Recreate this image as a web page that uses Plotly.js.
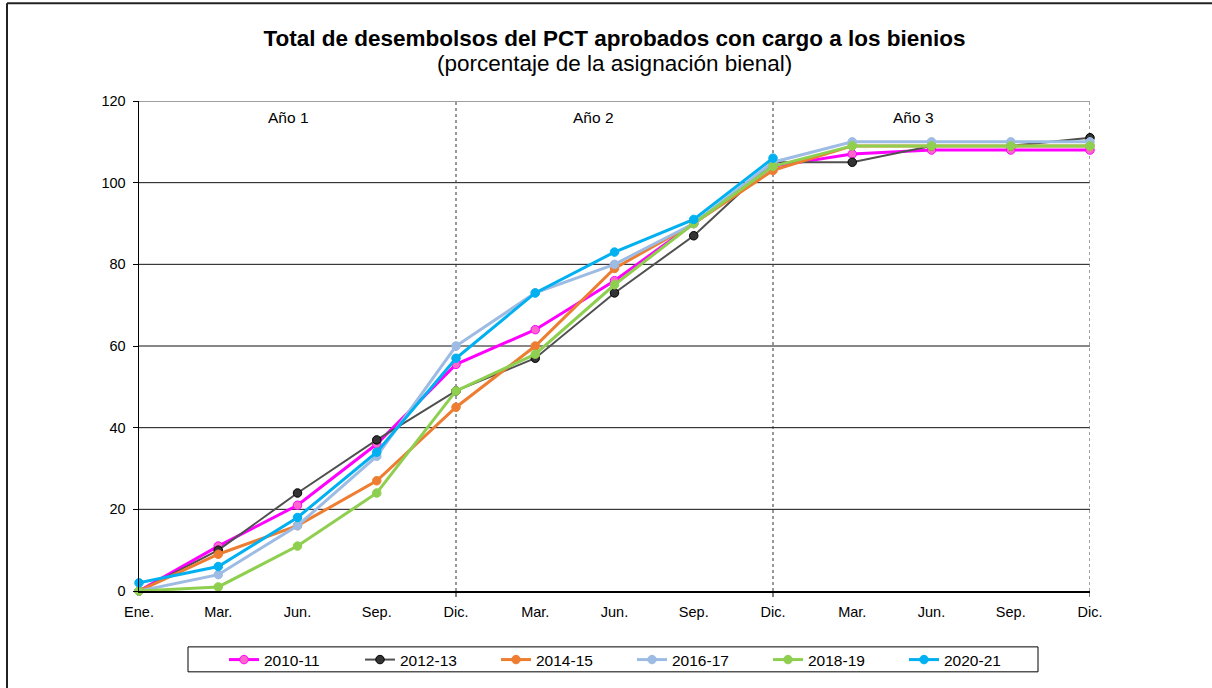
<!DOCTYPE html>
<html>
<head>
<meta charset="utf-8">
<script src="https://cdn.plot.ly/plotly-3.0.1.min.js"></script>
<style>
html,body{margin:0;padding:0;background:#fff;}
#chart{width:1212px;height:688px;}
</style>
</head>
<body>
<div id="chart"></div>
<script>
// ---- data ----
var monthLabels = ["Ene.","Mar.","Jun.","Sep.","Dic.","Mar.","Jun.","Sep.","Dic.","Mar.","Jun.","Sep.","Dic."];
var yearLabels = ["Año 1","Año 2","Año 3"];
var seriesNames = ["2010-11","2012-13","2014-15","2016-17","2018-19","2020-21"];
var s2010_11 = [0, 11, 21, 36, 55.5, 64, 76, 90, 104, 107, 108, 108, 108];
var s2012_13 = [0, 10, 24, 37, 49, 57, 73, 87, 105, 105, 109, 109, 111];
var s2014_15 = [0, 9, 16, 27, 45, 60, 79, 90, 103, 109, 109, 109, 109];
var s2016_17 = [0, 4, 16, 33, 60, 73, 80, 90, 105, 110, 110, 110, 110];
var s2018_19 = [0, 1, 11, 24, 49, 58, 75, 90, 104, 109, 109, 109, 109];
var s2020_21 = [2, 6, 18, 34, 57, 73, 83, 91, 106, null, null, null, null];

var xIdx = monthLabels.map(function(_, i){ return i; });

var styles = [
  {color:"#FF00FF", width:3, mcolor:"#FF66CC", mline:"#FF00FF"},
  {color:"#505050", width:2, mcolor:"#333333", mline:"#000000"},
  {color:"#ED7D31", width:3, mcolor:"#ED7D31", mline:"#ED7D31"},
  {color:"#9DBBE3", width:3, mcolor:"#9DBBE3", mline:"#9DBBE3"},
  {color:"#8FCF4F", width:3, mcolor:"#8FCF4F", mline:"#8FCF4F"},
  {color:"#00B0F0", width:3, mcolor:"#00B0F0", mline:"#00B0F0"}
];
var allSeries = [s2010_11, s2012_13, s2014_15, s2016_17, s2018_19, s2020_21];

var traces = allSeries.map(function(vals, k){
  var st = styles[k];
  return {
    x: xIdx, y: vals, name: seriesNames[k], type: "scatter", mode: "lines+markers",
    line: {color: st.color, width: st.width},
    marker: {size: 8.5, color: st.mcolor, line: {color: st.mline, width: 1}},
    connectgaps: false, cliponaxis: false
  };
});

// plot box geometry: l=139, r=1090, t=101, b=592
var L = 139, R = 1090, T = 101, B = 592;
function px(xpix){ return (xpix - L) / (R - L); }
function py(ypix){ return (B - ypix) / (B - T); }

var FONT = "Liberation Sans, Arial, sans-serif";
var shapes = [];
// horizontal grid lines
[20,40,60,80,100].forEach(function(v){
  shapes.push({type:"line", xref:"paper", yref:"y", x0:0, x1:1, y0:v, y1:v, line:{color:"#111", width:1}, layer:"below"});
});
shapes.push({type:"line", xref:"paper", yref:"y", x0:0, x1:1, y0:120, y1:120, line:{color:"#808080", width:1.5}, layer:"below"});
// vertical dotted lines at Dic.
[4, 8].forEach(function(i){
  shapes.push({type:"line", xref:"x", yref:"paper", x0:i, x1:i, y0:0, y1:1, line:{color:"#333", width:1, dash:"dot"}, layer:"below"});
});
shapes.push({type:"line", xref:"x", yref:"paper", x0:12, x1:12, y0:0, y1:1, line:{color:"#808080", width:1.5, dash:"dot"}, layer:"below"});
// tick marks on x axis at Dic.
[4, 8, 12].forEach(function(i){
  shapes.push({type:"line", xref:"x", yref:"paper", x0:i, x1:i, y0:0, y1:py(598), line:{color:"#000", width:1}});
});
// legend frame
shapes.push({type:"rect", xref:"paper", yref:"paper", x0:px(188), x1:px(1038), y0:py(673), y1:py(648), line:{color:"#000", width:1}, fillcolor:"rgba(0,0,0,0)"});
// outer frame (left and top)
shapes.push({type:"line", xref:"paper", yref:"paper", x0:px(7), x1:px(7), y0:py(3), y1:py(690), line:{color:"#222", width:2}});
shapes.push({type:"line", xref:"paper", yref:"paper", x0:px(7), x1:px(1214), y0:py(3), y1:py(3), line:{color:"#222", width:2}});

var yearPos = [1.89, 5.74, 9.77];
var annotations = yearLabels.map(function(t, i){
  return {text: t, x: yearPos[i], y: 116, xref:"x", yref:"y", showarrow:false,
          font:{family:FONT, size:15.5, color:"#000"}};
});
annotations.push({text:"(porcentaje de la asignación bienal)", xref:"paper", yref:"paper",
  x:0.5, y:py(63), yanchor:"middle", showarrow:false, font:{family:FONT, size:22.5, color:"#000"}});

var layout = {
  width:1212, height:688,
  paper_bgcolor:"#fff", plot_bgcolor:"#fff",
  margin:{l:L, r:1212-R, t:T, b:688-B, pad:0},
  font:{family:FONT, size:14, color:"#000"},
  title:{text:"<b>Total de desembolsos del PCT aprobados con cargo a los bienios</b>",
    x:0.5, xref:"paper", y:1-38/688, yref:"container", yanchor:"middle",
    font:{family:FONT, size:22.5, color:"#000"}},
  xaxis:{range:[0,12], tickmode:"array", tickvals:xIdx, ticktext:monthLabels,
    showgrid:false, zeroline:false, showline:true, linecolor:"#000", linewidth:1.5,
    ticks:"", ticklabelstandoff:7, tickfont:{size:14.5}, fixedrange:true},
  yaxis:{range:[0,120], tickvals:[0,20,40,60,80,100,120], showgrid:false, zeroline:false,
    showline:true, linecolor:"#000", linewidth:1.5, ticks:"outside", ticklen:5, tickcolor:"#000", tickwidth:1,
    ticklabelstandoff:4, tickfont:{size:14.5}, fixedrange:true},
  showlegend:true,
  legend:{orientation:"h", x:px(224), xanchor:"left", xref:"paper", y:py(660), yanchor:"middle",
    borderwidth:0, bgcolor:"rgba(0,0,0,0)", font:{family:FONT, size:15.5},
    entrywidth:91, entrywidthmode:"pixels", itemwidth:30, traceorder:"normal"},
  shapes:shapes,
  annotations:annotations
};

Plotly.newPlot("chart", traces, layout, {displayModeBar:false, staticPlot:true});
</script>
</body>
</html>
